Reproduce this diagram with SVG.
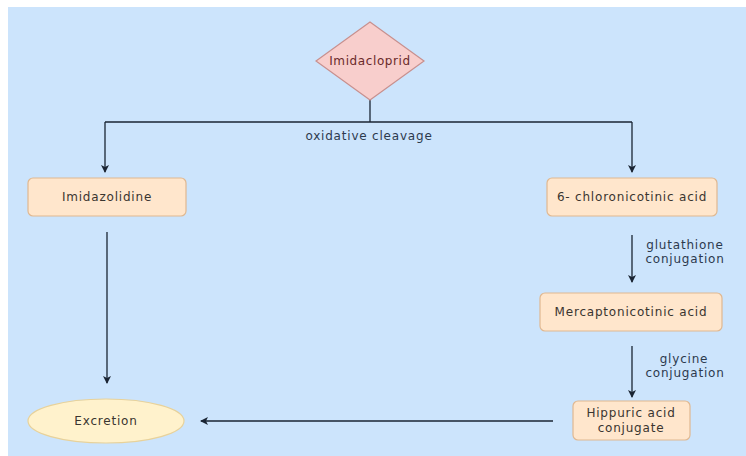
<svg xmlns="http://www.w3.org/2000/svg" width="746" height="456" viewBox="0 0 746 456">
<defs>
<marker id="ah" markerWidth="10" markerHeight="10" refX="8" refY="5" orient="auto" markerUnits="userSpaceOnUse">
<path d="M1,1 L9,5 L1,9 L3,5 Z" fill="#1a2433"/>
</marker>
<style>
.box{fill:#ffe6cc;stroke:#e0b890;stroke-width:1.2}
.t{font-family:"DejaVu Sans",Verdana,sans-serif;font-size:12px;letter-spacing:0.8px;fill:#3a3530;text-anchor:middle}
.lbl{font-family:"DejaVu Sans",Verdana,sans-serif;font-size:12px;letter-spacing:0.8px;fill:#2c3a4e;text-anchor:middle}
.c{stroke:#1a2433;stroke-width:1.3;fill:none}
</style>
</defs>
<rect x="0" y="0" width="746" height="456" fill="#ffffff"/>
<rect x="8" y="7" width="738" height="449" fill="#cce4fc"/>
<g id="connectors">
<path class="c" d="M370,100 L370,122"/>
<path class="c" d="M105,122 L632,122"/>
<path class="c" d="M105,122 L105,172" marker-end="url(#ah)"/>
<path class="c" d="M632,122 L632,172" marker-end="url(#ah)"/>
<path class="c" d="M632,235 L632,282" marker-end="url(#ah)"/>
<path class="c" d="M632,346 L632,397" marker-end="url(#ah)"/>
<path class="c" d="M107,232 L107,383" marker-end="url(#ah)"/>
<path class="c" d="M553,421 L201,421" marker-end="url(#ah)"/>
<text class="lbl" x="369" y="140">oxidative cleavage</text>
<text class="lbl" x="685" y="249">glutathione</text>
<text class="lbl" x="685" y="263">conjugation</text>
<text class="lbl" x="684" y="363">glycine</text>
<text class="lbl" x="685" y="377">conjugation</text>
</g>
<g id="imidacloprid">
<polygon points="370,22 424,61 370,100 316,61" fill="#f8cecc" stroke="#c8908e" stroke-width="1.2"/>
<text class="t" x="370" y="65" style="fill:#6a2a2a;letter-spacing:0.6px">Imidacloprid</text>
</g>
<g id="imidazolidine">
<rect class="box" x="28" y="178" width="158" height="38" rx="5"/>
<text class="t" x="107" y="201">Imidazolidine</text>
</g>
<g id="chloronicotinic">
<rect class="box" x="547" y="178" width="170" height="38" rx="5"/>
<text class="t" x="632" y="201">6- chloronicotinic acid</text>
</g>
<g id="mercaptonicotinic">
<rect class="box" x="540" y="293" width="182" height="38" rx="5"/>
<text class="t" x="631" y="316">Mercaptonicotinic acid</text>
</g>
<g id="hippuric">
<rect class="box" x="573" y="401" width="117" height="39" rx="5"/>
<text class="t" x="631" y="417">Hippuric acid</text>
<text class="t" x="631" y="432">conjugate</text>
</g>
<g id="excretion">
<ellipse cx="106" cy="421" rx="78" ry="22" fill="#fff2cc" stroke="#e8d29a" stroke-width="1.2"/>
<text class="t" x="106" y="425">Excretion</text>
</g>
</svg>
